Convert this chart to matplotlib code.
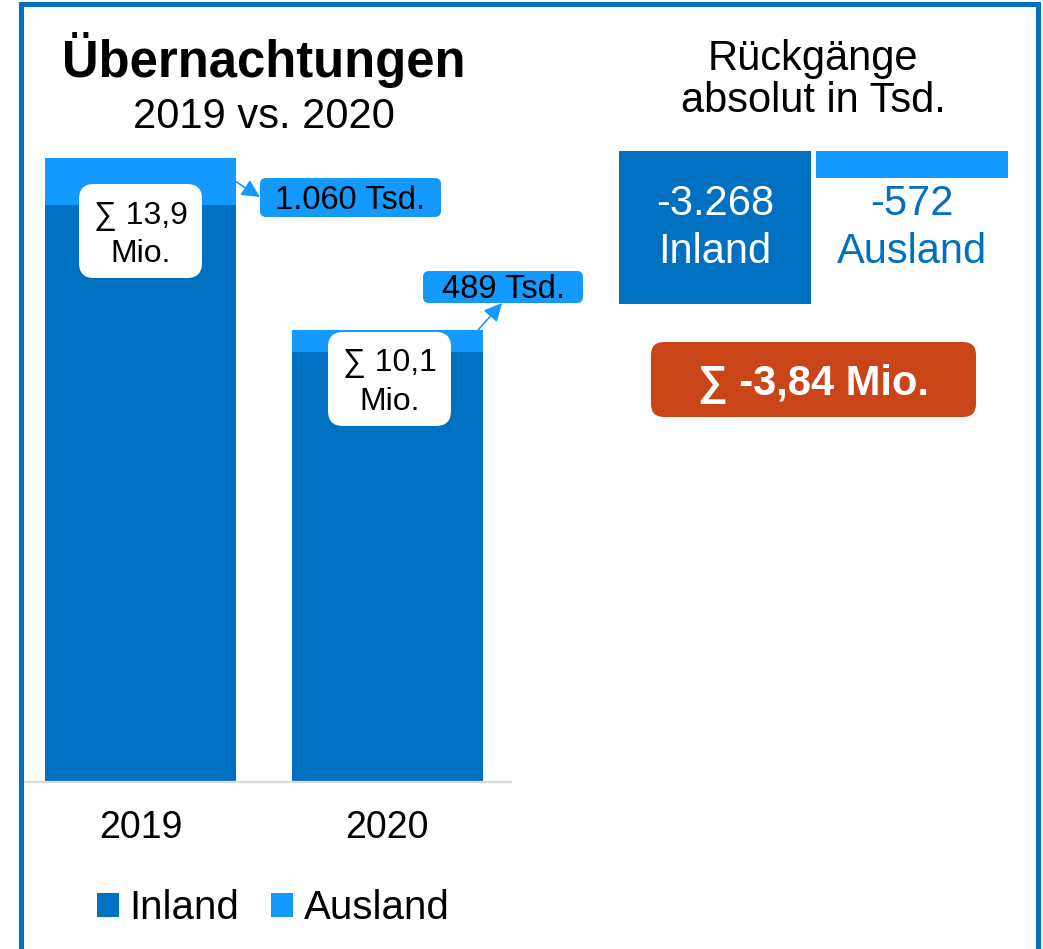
import matplotlib
matplotlib.use("Agg")
import matplotlib.pyplot as plt
from matplotlib.patches import FancyBboxPatch

plt.rcParams['font.family'] = ['Liberation Sans', 'DejaVu Sans']

# Übernachtungen in Tsd.
years = ['2019', '2020']
inland = [12877, 9609]
ausland = [1060.4, 488.7]
series = ['Inland', 'Ausland']

dark_blue = '#0070C0'
light_blue = '#1499FF'
red = '#C94517'

W, H = 1043, 949


def rect(x0, y0, x1, y1):
    # pixel box (top-left origin) -> figure fraction
    return [x0 / W, 1 - y1 / H, (x1 - x0) / W, (y1 - y0) / H]


def de(v):
    return f'{round(v):,}'.replace(',', '.')


def de_mio(v, nd):
    return f'{v / 1000:.{nd}f}'.replace('.', ',')


totals = [i + a for i, a in zip(inland, ausland)]
diff_in = inland[0] - inland[1]
diff_aus = ausland[0] - ausland[1]
diff_total = diff_in + diff_aus

fig = plt.figure(figsize=(W / 100, H / 100), dpi=100)

# left: stacked bars
ax = fig.add_axes(rect(23, 140, 511, 782))
x = range(len(years))
bw = 0.775
ax.bar(x, inland, bw, color=dark_blue, label=series[0])
ax.bar(x, ausland, bw, bottom=inland, color=light_blue, label=series[1])
ax.set_xlim(-0.477, 1.503)
ax.set_ylim(0, 14340)
ax.set_yticks([])
ax.set_xticks(list(x), years, fontsize=27)
ax.tick_params(axis='x', length=0, pad=20.5)
for s in ['top', 'left', 'right']:
    ax.spines[s].set_visible(False)
ax.spines['bottom'].set_color('#D9D9D9')
ax.spines['bottom'].set_linewidth(1.6)

leg = fig.legend(loc='lower left', bbox_to_anchor=(97 / W, 1 - 927 / H), ncol=2,
                 frameon=False, fontsize=29, borderpad=0, borderaxespad=0,
                 handlelength=0.55, handleheight=0.55, handletextpad=0.25,
                 columnspacing=0.8)

# right: absolute decreases
ax2 = fig.add_axes(rect(619, 151, 1008, 304))
ax2.bar([0, 1], [diff_in, diff_aus], 0.975, color=[dark_blue, light_blue])
ax2.set_xlim(-0.487, 1.487)
ax2.set_ylim(diff_in, 0)
ax2.axis('off')

# overlay in pixel coordinates for frame, boxes and texts
ov = fig.add_axes([0, 0, 1, 1], zorder=5)
ov.set_xlim(0, W)
ov.set_ylim(H, 0)
ov.axis('off')

fw = 5 * 72 / 100
ov.plot([20.5, 20.5, 1037.5, 1037.5], [H + 5, 3.5, 3.5, H + 5], color=dark_blue,
        lw=fw, solid_joinstyle='miter')

ov.text(264, 77, 'Übernachtungen', fontsize=36.5, fontweight='bold', ha='center', va='baseline')
ov.text(264, 128, '2019 vs. 2020', fontsize=30, ha='center', va='baseline')
ov.text(813, 70, 'Rückgänge', fontsize=30, ha='center', va='baseline')
ov.text(813, 112, 'absolut in Tsd.', fontsize=30, ha='center', va='baseline')

# totals in white boxes
for (bx0, by0, bx1, by1), tot in zip([(79, 184, 202, 278), (328, 332, 451, 426)], totals):
    ov.add_patch(FancyBboxPatch((bx0, by0), bx1 - bx0, by1 - by0,
                                boxstyle='round,pad=0,rounding_size=15',
                                fc='white', ec='none'))
    cx = (bx0 + bx1) / 2
    ov.text(cx, by0 + 39.5, '∑ ' + de_mio(tot, 1), fontsize=23, ha='center', va='baseline')
    ov.text(cx, by0 + 78, 'Mio.', fontsize=23, ha='center', va='baseline')

# Ausland callouts
callouts = [(260, 178, 441, 217), (423, 271, 583, 303)]
starts = [(0 + bw / 2, inland[0] + ausland[0] / 2), (1 + 0.37, totals[1])]
ends = [(260, 197), (502, 303)]
for (bx0, by0, bx1, by1), val, st, en in zip(callouts, ausland, starts, ends):
    ov.add_patch(FancyBboxPatch((bx0, by0), bx1 - bx0, by1 - by0,
                                boxstyle='round,pad=0,rounding_size=6',
                                fc=light_blue, ec='none'))
    ov.text((bx0 + bx1) / 2, (by0 + by1) / 2 + 11, de(val) + ' Tsd.', fontsize=23.5,
            ha='center', va='baseline')
    ov.annotate('', xy=en, xycoords=ov.transData, xytext=st, textcoords=ax.transData,
                arrowprops=dict(arrowstyle='-|>,head_length=0.6,head_width=0.3',
                                color=light_blue, lw=1.2, shrinkA=0, shrinkB=0,
                                mutation_scale=18))

# decrease labels
ov.text(715, 215, '-' + de(diff_in), fontsize=30, color='white', ha='center', va='baseline')
ov.text(715, 263, series[0], fontsize=30, color='white', ha='center', va='baseline')
ov.text(912, 215, '-' + de(diff_aus), fontsize=30, color=dark_blue, ha='center', va='baseline')
ov.text(912, 263, series[1], fontsize=30, color=dark_blue, ha='center', va='baseline')

ov.add_patch(FancyBboxPatch((651, 342), 325, 75, boxstyle='round,pad=0,rounding_size=13',
                            fc=red, ec='none'))
ov.text(813.5, 395, '∑ -' + de_mio(diff_total, 2) + ' Mio.', fontsize=30, fontweight='bold',
        color='white', ha='center', va='baseline')

fig.savefig('out.png', dpi=100)
